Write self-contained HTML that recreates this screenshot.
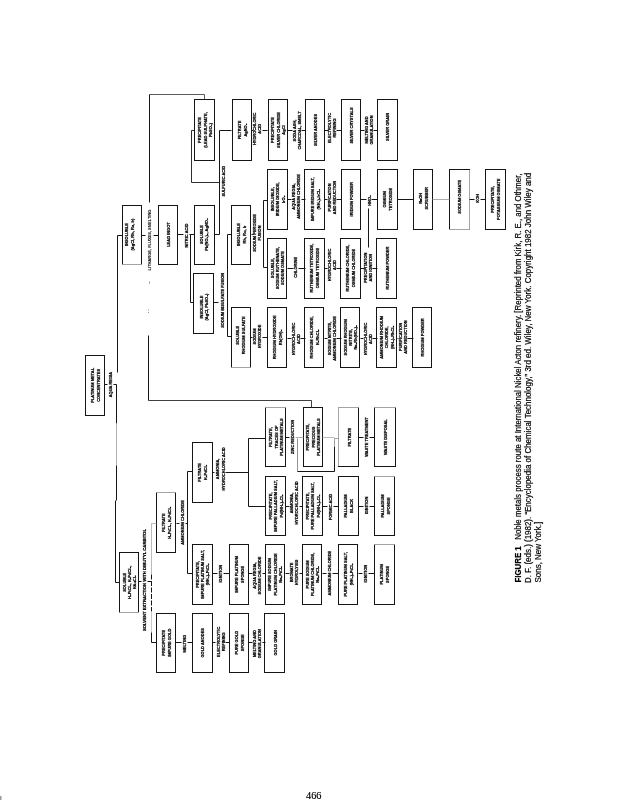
<!DOCTYPE html>
<html><head><meta charset="utf-8"><title>Figure 1</title>
<style>
html,body{margin:0;padding:0;background:#fff;}
body{width:617px;height:800px;overflow:hidden;}
svg{display:block;filter:grayscale(1);}
.b{fill:none;stroke:#151515;stroke-width:1;}
.l{fill:none;stroke:#151515;}
.t{font-family:"Liberation Sans",sans-serif;font-weight:bold;text-anchor:middle;fill:#000;stroke:#000;stroke-width:0.25;}
.f{stroke:#111;stroke-width:0.1;fill:#111;}
.c{font-family:"Liberation Sans",sans-serif;font-size:8.2px;fill:#000;stroke:#000;stroke-width:0.2;}
</style></head><body>
<svg width="617" height="800" viewBox="0 0 617 800">
<rect width="617" height="800" fill="#fff"/>
<rect x="85.5" y="355.5" width="19.0" height="60.0" class="b"/>
<text class="t" font-size="4.4" transform="translate(94.08,385.35) rotate(-90) scale(0.91,1)">PLATINUM METAL</text>
<text class="t" font-size="4.4" transform="translate(100.08,385.35) rotate(-90) scale(0.91,1)">CONCENTRATES</text>
<line x1="122.5" y1="205.0" x2="122.5" y2="265.0" class="l" style="stroke-width:1"/>
<line x1="141.5" y1="205.0" x2="141.5" y2="265.0" class="l" style="stroke-width:1"/>
<line x1="122.0" y1="205.5" x2="142.0" y2="205.5" class="l" style="stroke-width:1"/>
<line x1="122.0" y1="264.5" x2="142.0" y2="264.5" class="l" style="stroke:#9a9a9a;stroke-width:0.9"/>
<text class="t" font-size="4.4" transform="translate(128.43,234.55) rotate(-90) scale(0.91,1)">INSOLUBLE</text>
<text class="t" font-size="4.4" transform="translate(134.43,234.55) rotate(-90) scale(0.91,1)">(AgCl, Rh, Ru, Ir)</text>
<rect x="158.5" y="205.5" width="19.0" height="59.0" class="b"/>
<text class="t" font-size="4.4" transform="translate(169.73,234.55) rotate(-90) scale(0.91,1)">LEAD INGOT</text>
<rect x="194.5" y="205.5" width="20.0" height="59.0" class="b"/>
<text class="t" font-size="4.4" transform="translate(203.43,234.55) rotate(-90) scale(0.91,1)">SOLUBLE</text>
<text class="t" font-size="4.4" transform="translate(208.43,234.55) rotate(-90) scale(0.91,1)">Pb(NO₃)₂, AgNO₃</text>
<rect x="231.5" y="205.5" width="19.0" height="59.0" class="b"/>
<text class="t" font-size="4.4" transform="translate(239.88,234.55) rotate(-90) scale(0.91,1)">INSOLUBLE</text>
<text class="t" font-size="4.4" transform="translate(246.28,234.55) rotate(-90) scale(0.91,1)">Rh, Ru, Ir</text>
<rect x="193.5" y="273.5" width="20.0" height="60.0" class="b"/>
<text class="t" font-size="4.4" transform="translate(202.93,307.05) rotate(-90) scale(0.91,1)">INSOLUBLE</text>
<text class="t" font-size="4.4" transform="translate(207.93,307.05) rotate(-90) scale(0.91,1)">(AgCl, PbSO₄)</text>
<line x1="231.5" y1="307.0" x2="231.5" y2="368.0" class="l" style="stroke-width:1"/>
<line x1="250.5" y1="307.0" x2="250.5" y2="368.0" class="l" style="stroke-width:1"/>
<line x1="231.0" y1="307.5" x2="251.0" y2="307.5" class="l" style="stroke-width:1"/>
<line x1="231.0" y1="367.5" x2="251.0" y2="367.5" class="l" style="stroke:#9a9a9a;stroke-width:0.9"/>
<text class="t" font-size="4.4" transform="translate(239.48,335.35) rotate(-90) scale(0.91,1)">SOLUBLE</text>
<text class="t" font-size="4.4" transform="translate(245.48,335.35) rotate(-90) scale(0.91,1)">RHODIUM SULFATE</text>
<rect x="194.5" y="99.5" width="20.0" height="61.0" class="b"/>
<text class="t" font-size="4.4" transform="translate(201.23,130.00) rotate(-90) scale(0.91,1)">PRECIPITATE</text>
<text class="t" font-size="4.4" transform="translate(206.53,130.00) rotate(-90) scale(0.91,1)">(LEAD SULPHATE,</text>
<text class="t" font-size="4.4" transform="translate(211.83,130.00) rotate(-90) scale(0.91,1)">PbSO₄)</text>
<rect x="232.5" y="99.5" width="19.0" height="61.0" class="b"/>
<text class="t" font-size="4.4" transform="translate(240.63,130.00) rotate(-90) scale(0.91,1)">FILTRATE</text>
<text class="t" font-size="4.4" transform="translate(246.63,130.00) rotate(-90) scale(0.91,1)">AgNO₃</text>
<rect x="268.5" y="99.5" width="19.0" height="61.0" class="b"/>
<text class="t" font-size="4.4" transform="translate(274.33,130.00) rotate(-90) scale(0.91,1)">PRECIPITATE</text>
<text class="t" font-size="4.4" transform="translate(279.63,130.00) rotate(-90) scale(0.91,1)">SILVER CHLORIDE</text>
<text class="t" font-size="4.4" transform="translate(284.93,130.00) rotate(-90) scale(0.91,1)">AgCl</text>
<rect x="305.5" y="99.5" width="19.0" height="61.0" class="b"/>
<text class="t" font-size="4.4" transform="translate(316.83,130.00) rotate(-90) scale(0.91,1)">SILVER ANODES</text>
<rect x="341.5" y="99.5" width="19.0" height="61.0" class="b"/>
<text class="t" font-size="4.4" transform="translate(352.93,125.50) rotate(-90) scale(0.91,1)">SILVER CRYSTALS</text>
<rect x="377.5" y="99.5" width="20.0" height="61.0" class="b"/>
<text class="t" font-size="4.4" transform="translate(389.23,127.00) rotate(-90) scale(0.91,1)">SILVER GRAIN</text>
<rect x="267.5" y="169.5" width="20.0" height="60.0" class="b"/>
<text class="t" font-size="4.4" transform="translate(274.13,199.30) rotate(-90) scale(0.91,1)">INSOLUBLE,</text>
<text class="t" font-size="4.4" transform="translate(279.43,199.30) rotate(-90) scale(0.91,1)">IRIDIUM DIOXIDE,</text>
<text class="t" font-size="4.4" transform="translate(284.73,199.30) rotate(-90) scale(0.91,1)">IrO₂</text>
<rect x="304.5" y="169.5" width="20.0" height="60.0" class="b"/>
<text class="t" font-size="4.4" transform="translate(313.63,199.30) rotate(-90) scale(0.91,1)">IMPURE IRIDIUM SALT,</text>
<text class="t" font-size="4.4" transform="translate(319.63,199.30) rotate(-90) scale(0.91,1)">(NH₄)₂IrCl₆</text>
<rect x="341.5" y="169.5" width="19.0" height="60.0" class="b"/>
<text class="t" font-size="4.4" transform="translate(352.73,199.30) rotate(-90) scale(0.91,1)">IRIDIUM POWDER</text>
<rect x="377.5" y="169.5" width="20.0" height="60.0" class="b"/>
<text class="t" font-size="4.4" transform="translate(386.03,199.30) rotate(-90) scale(0.91,1)">OSMIUM</text>
<text class="t" font-size="4.4" transform="translate(392.03,199.30) rotate(-90) scale(0.91,1)">TETROXIDE</text>
<rect x="413.5" y="169.5" width="19.0" height="60.0" class="b"/>
<text class="t" font-size="4.4" transform="translate(421.63,198.30) rotate(-90) scale(0.91,1)">NaOH</text>
<text class="t" font-size="4.4" transform="translate(427.63,198.30) rotate(-90) scale(0.91,1)">SCRUBBER</text>
<line x1="449.5" y1="169.0" x2="449.5" y2="230.0" class="l" style="stroke-width:1"/>
<line x1="469.5" y1="169.0" x2="469.5" y2="230.0" class="l" style="stroke:#9a9a9a;stroke-width:0.9"/>
<line x1="449.0" y1="169.5" x2="470.0" y2="169.5" class="l" style="stroke-width:1"/>
<line x1="449.0" y1="229.5" x2="470.0" y2="229.5" class="l" style="stroke:#9a9a9a;stroke-width:0.9"/>
<text class="t" font-size="4.4" transform="translate(461.03,196.80) rotate(-90) scale(0.91,1)">SODIUM OSMATE</text>
<rect x="485.5" y="169.5" width="20.0" height="60.0" class="b"/>
<text class="t" font-size="4.4" transform="translate(494.08,199.30) rotate(-90) scale(0.91,1)">PRECIPITATE,</text>
<text class="t" font-size="4.4" transform="translate(500.08,199.30) rotate(-90) scale(0.91,1)">POTASSIUM OSMATE</text>
<rect x="267.5" y="238.5" width="19.0" height="60.0" class="b"/>
<text class="t" font-size="4.4" transform="translate(273.63,268.10) rotate(-90) scale(0.91,1)">SOLUBLE,</text>
<text class="t" font-size="4.4" transform="translate(278.93,268.10) rotate(-90) scale(0.91,1)">SODIUM RUTHENATE,</text>
<text class="t" font-size="4.4" transform="translate(284.23,268.10) rotate(-90) scale(0.91,1)">SODIUM OSMATE</text>
<rect x="304.5" y="238.5" width="20.0" height="60.0" class="b"/>
<text class="t" font-size="4.4" transform="translate(313.13,268.10) rotate(-90) scale(0.91,1)">RUTHENIUM TETROXIDE,</text>
<text class="t" font-size="4.4" transform="translate(319.13,268.10) rotate(-90) scale(0.91,1)">OSMIUM TETROXIDE</text>
<rect x="340.5" y="238.5" width="20.0" height="60.0" class="b"/>
<text class="t" font-size="4.4" transform="translate(349.23,268.10) rotate(-90) scale(0.91,1)">RUTHENIUM CHLORIDE,</text>
<text class="t" font-size="4.4" transform="translate(355.23,268.10) rotate(-90) scale(0.91,1)">OSMIUM CHLORIDE</text>
<rect x="376.5" y="238.5" width="20.0" height="60.0" class="b"/>
<text class="t" font-size="4.4" transform="translate(388.53,268.10) rotate(-90) scale(0.91,1)">RUTHENIUM POWDER</text>
<rect x="267.5" y="307.5" width="19.0" height="60.0" class="b"/>
<text class="t" font-size="4.4" transform="translate(275.63,337.35) rotate(-90) scale(0.91,1)">RHODIUM HYDROXIDE</text>
<text class="t" font-size="4.4" transform="translate(281.63,337.35) rotate(-90) scale(0.91,1)">Rh(OH)₃</text>
<rect x="304.5" y="307.5" width="19.0" height="60.0" class="b"/>
<text class="t" font-size="4.4" transform="translate(312.83,337.35) rotate(-90) scale(0.91,1)">RHODIUM CHLORIDE,</text>
<text class="t" font-size="4.4" transform="translate(318.83,337.35) rotate(-90) scale(0.91,1)">H₃RhCl₆</text>
<rect x="340.5" y="307.5" width="19.0" height="60.0" class="b"/>
<text class="t" font-size="4.4" transform="translate(346.63,337.35) rotate(-90) scale(0.91,1)">SODIUM RHODIUM</text>
<text class="t" font-size="4.4" transform="translate(351.93,337.35) rotate(-90) scale(0.91,1)">NITRITE,</text>
<text class="t" font-size="4.4" transform="translate(357.23,337.35) rotate(-90) scale(0.91,1)">Na₃Rh(NO₂)₆</text>
<rect x="376.5" y="307.5" width="20.0" height="60.0" class="b"/>
<text class="t" font-size="4.4" transform="translate(382.93,337.35) rotate(-90) scale(0.91,1)">AMMONIUM RHODIUM</text>
<text class="t" font-size="4.4" transform="translate(388.23,337.35) rotate(-90) scale(0.91,1)">CHLORIDE,</text>
<text class="t" font-size="4.4" transform="translate(393.53,337.35) rotate(-90) scale(0.91,1)">(NH₄)₃RhCl₆</text>
<rect x="412.5" y="307.5" width="19.0" height="60.0" class="b"/>
<text class="t" font-size="4.4" transform="translate(423.83,337.35) rotate(-90) scale(0.91,1)">RHODIUM POWDER</text>
<line x1="119.5" y1="552.0" x2="119.5" y2="613.0" class="l" style="stroke-width:1"/>
<line x1="138.5" y1="552.0" x2="138.5" y2="613.0" class="l" style="stroke-width:1"/>
<line x1="119.0" y1="552.5" x2="139.0" y2="552.5" class="l" style="stroke-width:1"/>
<line x1="119.0" y1="612.5" x2="139.0" y2="612.5" class="l" style="stroke:#9a9a9a;stroke-width:0.9"/>
<text class="t" font-size="4.4" transform="translate(125.78,582.30) rotate(-90) scale(0.91,1)">SOLUBLE</text>
<text class="t" font-size="4.4" transform="translate(131.08,582.30) rotate(-90) scale(0.91,1)">H₂PtCl₆, H₂PdCl₄,</text>
<text class="t" font-size="4.4" transform="translate(136.38,582.30) rotate(-90) scale(0.91,1)">HAuCl₄</text>
<line x1="156.5" y1="492.0" x2="156.5" y2="553.0" class="l" style="stroke-width:1"/>
<line x1="175.5" y1="492.0" x2="175.5" y2="553.0" class="l" style="stroke-width:1"/>
<line x1="156.0" y1="492.5" x2="176.0" y2="492.5" class="l" style="stroke:#9a9a9a;stroke-width:0.9"/>
<line x1="156.0" y1="552.5" x2="176.0" y2="552.5" class="l" style="stroke-width:1"/>
<text class="t" font-size="4.4" transform="translate(164.93,522.65) rotate(-90) scale(0.91,1)">FILTRATE</text>
<text class="t" font-size="4.4" transform="translate(170.93,522.65) rotate(-90) scale(0.91,1)">H₂PtCl₆, H₂PdCl₄</text>
<rect x="192.5" y="442.5" width="20.0" height="60.0" class="b"/>
<text class="t" font-size="4.4" transform="translate(201.18,472.35) rotate(-90) scale(0.91,1)">FILTRATE</text>
<text class="t" font-size="4.4" transform="translate(207.18,472.35) rotate(-90) scale(0.91,1)">H₂PdCl₄</text>
<rect x="156.5" y="613.5" width="19.0" height="59.0" class="b"/>
<text class="t" font-size="4.4" transform="translate(164.73,642.75) rotate(-90) scale(0.91,1)">PRECIPITATE</text>
<text class="t" font-size="4.4" transform="translate(170.73,642.75) rotate(-90) scale(0.91,1)">IMPURE GOLD</text>
<rect x="192.5" y="613.5" width="20.0" height="59.0" class="b"/>
<text class="t" font-size="4.4" transform="translate(203.88,642.75) rotate(-90) scale(0.91,1)">GOLD ANODES</text>
<rect x="229.5" y="613.5" width="19.0" height="59.0" class="b"/>
<text class="t" font-size="4.4" transform="translate(237.68,642.75) rotate(-90) scale(0.91,1)">PURE GOLD</text>
<text class="t" font-size="4.4" transform="translate(243.68,642.75) rotate(-90) scale(0.91,1)">SPONGE</text>
<rect x="264.5" y="613.5" width="20.0" height="59.0" class="b"/>
<text class="t" font-size="4.4" transform="translate(276.63,642.75) rotate(-90) scale(0.91,1)">GOLD GRAIN</text>
<rect x="192.5" y="544.5" width="20.0" height="60.0" class="b"/>
<text class="t" font-size="4.4" transform="translate(198.58,574.40) rotate(-90) scale(0.91,1)">PRECIPITATE,</text>
<text class="t" font-size="4.4" transform="translate(203.88,574.40) rotate(-90) scale(0.91,1)">IMPURE PLATINUM SALT,</text>
<text class="t" font-size="4.4" transform="translate(209.18,574.40) rotate(-90) scale(0.91,1)">(NH₄)₂PtCl₆</text>
<rect x="229.5" y="544.5" width="19.0" height="60.0" class="b"/>
<text class="t" font-size="4.4" transform="translate(237.68,574.40) rotate(-90) scale(0.91,1)">IMPURE PLATINUM</text>
<text class="t" font-size="4.4" transform="translate(243.68,574.40) rotate(-90) scale(0.91,1)">SPONGE</text>
<rect x="265.5" y="544.5" width="19.0" height="60.0" class="b"/>
<text class="t" font-size="4.4" transform="translate(271.43,574.40) rotate(-90) scale(0.91,1)">IMPURE SODIUM</text>
<text class="t" font-size="4.4" transform="translate(276.73,574.40) rotate(-90) scale(0.91,1)">PLATINUM CHLORIDE</text>
<text class="t" font-size="4.4" transform="translate(282.03,574.40) rotate(-90) scale(0.91,1)">Na₂PtCl₆</text>
<rect x="302.5" y="544.5" width="19.0" height="60.0" class="b"/>
<text class="t" font-size="4.4" transform="translate(308.58,574.40) rotate(-90) scale(0.91,1)">PURE SODIUM</text>
<text class="t" font-size="4.4" transform="translate(313.88,574.40) rotate(-90) scale(0.91,1)">PLATINUM CHLORIDE,</text>
<text class="t" font-size="4.4" transform="translate(319.18,574.40) rotate(-90) scale(0.91,1)">Na₂PtCl₆</text>
<rect x="338.5" y="544.5" width="19.0" height="60.0" class="b"/>
<text class="t" font-size="4.4" transform="translate(346.83,574.40) rotate(-90) scale(0.91,1)">PURE PLATINUM SALT,</text>
<text class="t" font-size="4.4" transform="translate(352.83,574.40) rotate(-90) scale(0.91,1)">(NH₄)₂PtCl₆</text>
<line x1="374.5" y1="544.0" x2="374.5" y2="605.0" class="l" style="stroke-width:1"/>
<line x1="394.5" y1="544.0" x2="394.5" y2="605.0" class="l" style="stroke-width:1"/>
<line x1="374.0" y1="544.5" x2="395.0" y2="544.5" class="l" style="stroke:#9a9a9a;stroke-width:0.9"/>
<line x1="374.0" y1="604.5" x2="395.0" y2="604.5" class="l" style="stroke-width:1"/>
<text class="t" font-size="4.4" transform="translate(383.08,574.40) rotate(-90) scale(0.91,1)">PLATINUM</text>
<text class="t" font-size="4.4" transform="translate(389.08,574.40) rotate(-90) scale(0.91,1)">SPONGE</text>
<rect x="265.5" y="476.5" width="20.0" height="59.0" class="b"/>
<text class="t" font-size="4.4" transform="translate(271.93,505.95) rotate(-90) scale(0.91,1)">PRECIPITATE,</text>
<text class="t" font-size="4.4" transform="translate(277.23,505.95) rotate(-90) scale(0.91,1)">IMPURE PALLADIUM SALT,</text>
<text class="t" font-size="4.4" transform="translate(282.53,505.95) rotate(-90) scale(0.91,1)">Pd(NH₃)₂Cl₂</text>
<rect x="302.5" y="476.5" width="20.0" height="59.0" class="b"/>
<text class="t" font-size="4.4" transform="translate(309.08,505.95) rotate(-90) scale(0.91,1)">PRECIPITATE,</text>
<text class="t" font-size="4.4" transform="translate(314.38,505.95) rotate(-90) scale(0.91,1)">PURE PALLADIUM SALT,</text>
<text class="t" font-size="4.4" transform="translate(319.68,505.95) rotate(-90) scale(0.91,1)">Pd(NH₃)₂Cl₂</text>
<rect x="338.5" y="476.5" width="20.0" height="59.0" class="b"/>
<text class="t" font-size="4.4" transform="translate(347.33,505.95) rotate(-90) scale(0.91,1)">PALLADIUM</text>
<text class="t" font-size="4.4" transform="translate(353.33,505.95) rotate(-90) scale(0.91,1)">BLACK</text>
<line x1="374.5" y1="476.0" x2="374.5" y2="536.0" class="l" style="stroke-width:1"/>
<line x1="394.5" y1="476.0" x2="394.5" y2="536.0" class="l" style="stroke-width:1"/>
<line x1="374.0" y1="476.5" x2="395.0" y2="476.5" class="l" style="stroke:#9a9a9a;stroke-width:0.9"/>
<line x1="374.0" y1="535.5" x2="395.0" y2="535.5" class="l" style="stroke-width:1"/>
<text class="t" font-size="4.4" transform="translate(383.58,505.95) rotate(-90) scale(0.91,1)">PALLADIUM</text>
<text class="t" font-size="4.4" transform="translate(389.58,505.95) rotate(-90) scale(0.91,1)">SPONGE</text>
<line x1="265.5" y1="407.0" x2="265.5" y2="467.0" class="l" style="stroke-width:1"/>
<line x1="285.5" y1="407.0" x2="285.5" y2="467.0" class="l" style="stroke-width:1"/>
<line x1="265.0" y1="407.5" x2="286.0" y2="407.5" class="l" style="stroke:#9a9a9a;stroke-width:0.9"/>
<line x1="265.0" y1="466.5" x2="286.0" y2="466.5" class="l" style="stroke-width:1"/>
<text class="t" font-size="4.4" transform="translate(272.33,437.10) rotate(-90) scale(0.91,1)">FILTRATE,</text>
<text class="t" font-size="4.4" transform="translate(277.63,437.10) rotate(-90) scale(0.91,1)">TRACES OF</text>
<text class="t" font-size="4.4" transform="translate(282.93,437.10) rotate(-90) scale(0.91,1)">PLATINUM METALS</text>
<rect x="303.5" y="407.5" width="19.0" height="59.0" class="b"/>
<text class="t" font-size="4.4" transform="translate(309.48,437.10) rotate(-90) scale(0.91,1)">PRECIPITATE,</text>
<text class="t" font-size="4.4" transform="translate(314.78,437.10) rotate(-90) scale(0.91,1)">PRECIOUS</text>
<text class="t" font-size="4.4" transform="translate(320.08,437.10) rotate(-90) scale(0.91,1)">PLATINUM METALS</text>
<line x1="338.5" y1="407.0" x2="338.5" y2="467.0" class="l" style="stroke:#9a9a9a;stroke-width:0.9"/>
<line x1="358.5" y1="407.0" x2="358.5" y2="467.0" class="l" style="stroke-width:1"/>
<line x1="338.0" y1="407.5" x2="359.0" y2="407.5" class="l" style="stroke:#9a9a9a;stroke-width:0.9"/>
<line x1="338.0" y1="466.5" x2="359.0" y2="466.5" class="l" style="stroke-width:1"/>
<text class="t" font-size="4.4" transform="translate(350.73,437.10) rotate(-90) scale(0.91,1)">FILTRATE</text>
<line x1="374.5" y1="407.0" x2="374.5" y2="467.0" class="l" style="stroke-width:1"/>
<line x1="395.5" y1="407.0" x2="395.5" y2="467.0" class="l" style="stroke-width:1"/>
<line x1="374.0" y1="407.5" x2="396.0" y2="407.5" class="l" style="stroke:#9a9a9a;stroke-width:0.9"/>
<line x1="374.0" y1="466.5" x2="396.0" y2="466.5" class="l" style="stroke-width:1"/>
<text class="t" font-size="4.4" transform="translate(386.98,437.10) rotate(-90) scale(0.91,1)">WASTE DISPOSAL</text>
<text class="t" font-size="4.4" transform="translate(111.78,384.60) rotate(-90) scale(0.91,1)">AQUA REGIA</text>
<text class="t f" font-size="4.4" transform="translate(151.18,240.00) rotate(-90) scale(0.91,1)">LITHARGE, FLUXES, SMELTING</text>
<text class="t" font-size="4.4" transform="translate(187.98,235.60) rotate(-90) scale(0.91,1)">NITRIC ACID</text>
<text class="t" font-size="4.4" transform="translate(224.78,181.20) rotate(-90) scale(0.91,1)">SULFURIC ACID</text>
<text class="t" font-size="4.4" transform="translate(224.38,300.30) rotate(-90) scale(0.91,1)">SODIUM BISULFATE FUSION</text>
<text class="t" font-size="4.4" transform="translate(256.08,233.00) rotate(-90) scale(0.91,1)">SODIUM PEROXIDE</text>
<text class="t" font-size="4.4" transform="translate(261.08,233.00) rotate(-90) scale(0.91,1)">FUSION</text>
<text class="t" font-size="4.4" transform="translate(256.38,336.50) rotate(-90) scale(0.91,1)">SODIUM</text>
<text class="t" font-size="4.4" transform="translate(261.38,336.50) rotate(-90) scale(0.91,1)">HYDROXIDE</text>
<text class="t" font-size="4.4" transform="translate(256.48,128.80) rotate(-90) scale(0.91,1)">HYDROCHLORIC</text>
<text class="t" font-size="4.4" transform="translate(261.48,128.80) rotate(-90) scale(0.91,1)">ACID</text>
<text class="t" font-size="4.4" transform="translate(296.08,130.50) rotate(-90) scale(0.91,1)">SODA ASH,</text>
<text class="t" font-size="4.4" transform="translate(301.08,130.50) rotate(-90) scale(0.91,1)">CHARCOAL, SMELT</text>
<text class="t" font-size="4.4" transform="translate(331.38,128.00) rotate(-90) scale(0.91,1)">ELECTROLYTIC</text>
<text class="t" font-size="4.4" transform="translate(336.38,128.00) rotate(-90) scale(0.91,1)">REFINING</text>
<text class="t" font-size="4.4" transform="translate(368.28,130.00) rotate(-90) scale(0.91,1)">MELTING AND</text>
<text class="t" font-size="4.4" transform="translate(373.28,130.00) rotate(-90) scale(0.91,1)">GRANULATION</text>
<text class="t" font-size="4.4" transform="translate(295.48,196.50) rotate(-90) scale(0.91,1)">AQUA REGIA,</text>
<text class="t" font-size="4.4" transform="translate(300.48,196.50) rotate(-90) scale(0.91,1)">AMMONIUM CHLORIDE</text>
<text class="t" font-size="4.4" transform="translate(331.38,197.50) rotate(-90) scale(0.91,1)">PURIFICATION</text>
<text class="t" font-size="4.4" transform="translate(336.38,197.50) rotate(-90) scale(0.91,1)">AND REDUCTION</text>
<text class="t" font-size="4.4" transform="translate(370.78,200.50) rotate(-90) scale(0.91,1)">HNO₃</text>
<text class="t" font-size="4.4" transform="translate(478.98,198.30) rotate(-90) scale(0.91,1)">KOH</text>
<text class="t" font-size="4.4" transform="translate(297.18,267.30) rotate(-90) scale(0.91,1)">CHLORINE</text>
<text class="t" font-size="4.4" transform="translate(330.88,265.00) rotate(-90) scale(0.91,1)">HYDROCHLORIC</text>
<text class="t" font-size="4.4" transform="translate(335.88,265.00) rotate(-90) scale(0.91,1)">ACID</text>
<text class="t" font-size="4.4" transform="translate(367.38,267.70) rotate(-90) scale(0.91,1)">PRECIPITATION</text>
<text class="t" font-size="4.4" transform="translate(372.38,267.70) rotate(-90) scale(0.91,1)">AND IGNITION</text>
<text class="t" font-size="4.4" transform="translate(294.88,339.00) rotate(-90) scale(0.91,1)">HYDROCHLORIC</text>
<text class="t" font-size="4.4" transform="translate(299.88,339.00) rotate(-90) scale(0.91,1)">ACID</text>
<text class="t" font-size="4.4" transform="translate(330.88,338.50) rotate(-90) scale(0.91,1)">SODIUM NITRITE,</text>
<text class="t" font-size="4.4" transform="translate(335.88,338.50) rotate(-90) scale(0.91,1)">AMMONIUM CHLORIDE</text>
<text class="t" font-size="4.4" transform="translate(367.08,339.00) rotate(-90) scale(0.91,1)">HYDROCHLORIC</text>
<text class="t" font-size="4.4" transform="translate(372.08,339.00) rotate(-90) scale(0.91,1)">ACID</text>
<text class="t" font-size="4.4" transform="translate(402.28,337.00) rotate(-90) scale(0.91,1)">PURIFICATION</text>
<text class="t" font-size="4.4" transform="translate(407.28,337.00) rotate(-90) scale(0.91,1)">AND REDUCTION</text>
<text class="t" font-size="4.4" transform="translate(145.88,580.00) rotate(-90) scale(0.955,1)">SOLVENT EXTRACTION WITH DIBUTYL CARBITOL</text>
<text class="t" font-size="4.4" transform="translate(184.08,522.50) rotate(-90) scale(0.91,1)">AMMONIUM CHLORIDE</text>
<text class="t" font-size="4.4" transform="translate(219.08,468.90) rotate(-90) scale(0.91,1)">AMMONIA,</text>
<text class="t" font-size="4.4" transform="translate(224.68,468.90) rotate(-90) scale(0.91,1)">HYDROCHLORIC ACID</text>
<text class="t" font-size="4.4" transform="translate(293.58,437.00) rotate(-90) scale(0.91,1)">ZINC REDUCTION</text>
<text class="t" font-size="4.4" transform="translate(367.88,437.00) rotate(-90) scale(0.91,1)">WASTE TREATMENT</text>
<text class="t" font-size="4.4" transform="translate(293.38,503.00) rotate(-90) scale(0.91,1)">AMMONIA,</text>
<text class="t" font-size="4.4" transform="translate(298.38,503.00) rotate(-90) scale(0.91,1)">HYDROCHLORIC ACID</text>
<text class="t" font-size="4.4" transform="translate(331.58,507.00) rotate(-90) scale(0.91,1)">FORMIC ACID</text>
<text class="t" font-size="4.4" transform="translate(367.88,505.50) rotate(-90) scale(0.91,1)">IGNITION</text>
<text class="t" font-size="4.4" transform="translate(222.18,573.70) rotate(-90) scale(0.91,1)">IGNITION</text>
<text class="t" font-size="4.4" transform="translate(256.08,575.50) rotate(-90) scale(0.91,1)">AQUA REGIA,</text>
<text class="t" font-size="4.4" transform="translate(261.08,575.50) rotate(-90) scale(0.91,1)">SODIUM CHLORIDE</text>
<text class="t" font-size="4.4" transform="translate(293.38,572.40) rotate(-90) scale(0.91,1)">BROMATE</text>
<text class="t" font-size="4.4" transform="translate(298.38,572.40) rotate(-90) scale(0.91,1)">HYDROLYSIS</text>
<text class="t" font-size="4.4" transform="translate(331.08,573.10) rotate(-90) scale(0.91,1)">AMMONIUM CHLORIDE</text>
<text class="t" font-size="4.4" transform="translate(367.38,573.70) rotate(-90) scale(0.91,1)">IGNITION</text>
<text class="t" font-size="4.4" transform="translate(185.88,643.70) rotate(-90) scale(0.91,1)">MELTING</text>
<text class="t" font-size="4.4" transform="translate(219.68,641.80) rotate(-90) scale(0.91,1)">ELECTROLYTIC</text>
<text class="t" font-size="4.4" transform="translate(224.68,641.80) rotate(-90) scale(0.91,1)">REFINING</text>
<text class="t" font-size="4.4" transform="translate(256.08,643.70) rotate(-90) scale(0.91,1)">MELTING AND</text>
<text class="t" font-size="4.4" transform="translate(261.08,643.70) rotate(-90) scale(0.91,1)">GRANULATION</text>
<polyline points="204.5,99.5 204.5,94.5 149.5,94.5" class="l" style="stroke-width:0.7"/>
<polyline points="149.5,94.5 149.5,202.5" class="l" style="stroke-width:1.0"/>
<polyline points="148.5,335.5 148.5,400.5" class="l" style="stroke-width:1.0"/>
<polyline points="149.5,281.5 149.5,283.5" class="l" style="stroke-width:0.8;stroke:#777"/>
<polyline points="148.5,309.5 148.5,314.5" class="l" style="stroke-width:0.8;stroke:#777;stroke-dasharray:1 1.5"/>
<polyline points="148.5,400.5 311.5,400.5 311.5,407.5" class="l" style="stroke-width:0.9;stroke:#2a2a2a"/>
<polyline points="104.5,384.5 107.5,384.5" class="l" style="stroke-width:1.0"/>
<polyline points="113.5,384.5 116.5,384.5" class="l" style="stroke-width:1.0"/>
<polyline points="122.5,235.5 117.5,235.5 117.5,372.5" class="l" style="stroke-width:1.0"/>
<polyline points="116.5,384.5 116.5,423.5" class="l" style="stroke-width:1.0"/>
<polyline points="116.5,423.5 116.5,465.5" class="l" style="stroke-width:0.8;stroke:#999"/>
<polyline points="116.5,465.5 116.5,500.5" class="l" style="stroke-width:1.0"/>
<polyline points="115.5,500.5 115.5,582.5 119.5,582.5" class="l" style="stroke-width:1.0"/>
<polyline points="141.5,235.5 145.5,235.5" class="l" style="stroke-width:1.0"/>
<polyline points="153.5,235.5 158.5,235.5" class="l" style="stroke-width:1.0"/>
<polyline points="177.5,234.5 183.5,234.5" class="l" style="stroke-width:1.0"/>
<polyline points="189.5,234.5 194.5,234.5" class="l" style="stroke-width:1.0"/>
<polyline points="190.5,234.5 190.5,302.5 193.5,302.5" class="l" style="stroke-width:1.0"/>
<polyline points="214.5,234.5 219.5,234.5 219.5,130.5 231.5,130.5" class="l" style="stroke-width:1.0"/>
<polyline points="219.5,182.5 191.5,182.5 191.5,130.5 194.5,130.5" class="l" style="stroke-width:0.9"/>
<polyline points="213.5,302.5 218.5,302.5" class="l" style="stroke-width:1.0"/>
<polyline points="231.5,234.5 227.5,234.5 227.5,336.5 231.5,336.5" class="l" style="stroke-width:1.0"/>
<polyline points="251.5,234.5 253.5,234.5" class="l" style="stroke-width:1.0"/>
<polyline points="267.5,200.5 263.5,200.5 263.5,267.5 267.5,267.5" class="l" style="stroke-width:1.0"/>
<polyline points="250.5,337.5 252.5,337.5" class="l" style="stroke-width:1.0"/>
<polyline points="262.5,337.5 267.5,337.5" class="l" style="stroke-width:1.0"/>
<polyline points="251.5,130.5 253.5,130.5" class="l" style="stroke-width:1.0"/>
<polyline points="262.5,130.5 267.5,130.5" class="l" style="stroke-width:1.0"/>
<polyline points="287.5,130.5 292.5,130.5" class="l" style="stroke-width:1.0"/>
<polyline points="301.5,130.5 305.5,130.5" class="l" style="stroke-width:1.0"/>
<polyline points="324.5,130.5 328.5,130.5" class="l" style="stroke-width:1.0"/>
<polyline points="336.5,130.5 341.5,130.5" class="l" style="stroke-width:1.0"/>
<polyline points="360.5,130.5 364.5,130.5" class="l" style="stroke-width:1.0"/>
<polyline points="373.5,130.5 377.5,130.5" class="l" style="stroke-width:1.0"/>
<polyline points="287.5,199.5 291.5,199.5" class="l" style="stroke-width:1.0"/>
<polyline points="301.5,199.5 305.5,199.5" class="l" style="stroke-width:1.0"/>
<polyline points="324.5,199.5 327.5,199.5" class="l" style="stroke-width:1.0"/>
<polyline points="336.5,199.5 341.5,199.5" class="l" style="stroke-width:1.0"/>
<polyline points="360.5,199.5 366.5,199.5" class="l" style="stroke-width:1.0"/>
<polyline points="371.5,199.5 377.5,199.5" class="l" style="stroke-width:1.0"/>
<polyline points="397.5,199.5 413.5,199.5" class="l" style="stroke-width:1.0"/>
<polyline points="469.5,199.5 474.5,199.5" class="l" style="stroke-width:1.0"/>
<polyline points="480.5,199.5 485.5,199.5" class="l" style="stroke-width:1.0"/>
<polyline points="368.5,208.5 368.5,247.5" class="l" style="stroke-width:1.0"/>
<polyline points="432.5,199.5 449.5,199.5" class="l" style="stroke-width:0.8;stroke:#999"/>
<polyline points="287.5,268.5 293.5,268.5" class="l" style="stroke-width:1.0"/>
<polyline points="298.5,268.5 305.5,268.5" class="l" style="stroke-width:1.0"/>
<polyline points="324.5,268.5 327.5,268.5" class="l" style="stroke-width:1.0"/>
<polyline points="336.5,268.5 341.5,268.5" class="l" style="stroke-width:1.0"/>
<polyline points="360.5,268.5 364.5,268.5" class="l" style="stroke-width:1.0"/>
<polyline points="372.5,268.5 377.5,268.5" class="l" style="stroke-width:1.0"/>
<polyline points="287.5,338.5 291.5,338.5" class="l" style="stroke-width:1.0"/>
<polyline points="300.5,338.5 305.5,338.5" class="l" style="stroke-width:1.0"/>
<polyline points="324.5,338.5 327.5,338.5" class="l" style="stroke-width:1.0"/>
<polyline points="336.5,338.5 341.5,338.5" class="l" style="stroke-width:1.0"/>
<polyline points="360.5,338.5 363.5,338.5" class="l" style="stroke-width:1.0"/>
<polyline points="372.5,338.5 377.5,338.5" class="l" style="stroke-width:1.0"/>
<polyline points="397.5,338.5 398.5,338.5" class="l" style="stroke-width:1.0"/>
<polyline points="407.5,338.5 413.5,338.5" class="l" style="stroke-width:1.0"/>
<polyline points="138.5,581.5 141.5,581.5" class="l" style="stroke-width:1.0"/>
<polyline points="147.5,581.5 151.5,581.5" class="l" style="stroke-width:1.0"/>
<polyline points="156.5,523.5 151.5,523.5 151.5,574.5" class="l" style="stroke-width:0.8;stroke:#aaa"/>
<polyline points="151.5,574.5 151.5,611.5" class="l" style="stroke-width:1.0;stroke-dasharray:5 1.5"/>
<polyline points="151.5,611.5 151.5,632.5" class="l" style="stroke-width:0.8;stroke:#bbb"/>
<polyline points="151.5,632.5 151.5,642.5 156.5,642.5" class="l" style="stroke-width:1.0"/>
<polyline points="176.5,523.5 179.5,523.5" class="l" style="stroke-width:1.0"/>
<polyline points="185.5,523.5 187.5,523.5" class="l" style="stroke-width:1.0"/>
<polyline points="192.5,471.5 187.5,471.5 187.5,573.5 192.5,573.5" class="l" style="stroke-width:1.0"/>
<polyline points="212.5,472.5 214.5,472.5" class="l" style="stroke-width:1.0"/>
<polyline points="225.5,472.5 248.5,472.5" class="l" style="stroke-width:1.0"/>
<polyline points="265.5,438.5 248.5,438.5 248.5,506.5 265.5,506.5" class="l" style="stroke-width:1.0"/>
<polyline points="285.5,437.5 289.5,437.5" class="l" style="stroke-width:1.0"/>
<polyline points="358.5,437.5 363.5,437.5" class="l" style="stroke-width:1.0"/>
<polyline points="369.5,437.5 374.5,437.5" class="l" style="stroke-width:1.0"/>
<polyline points="295.5,437.5 303.5,437.5" class="l" style="stroke-width:0.8;stroke:#999"/>
<polyline points="322.5,437.5 334.5,437.5" class="l" style="stroke-width:0.8;stroke:#aaa"/>
<polyline points="297.5,438.5 297.5,471.5" class="l" style="stroke-width:0.8;stroke:#777"/>
<polyline points="297.5,471.5 334.5,471.5 334.5,446.5" class="l" style="stroke-width:1.0"/>
<polyline points="334.5,446.5 334.5,438.5 338.5,438.5" class="l" style="stroke-width:0.8;stroke:#888"/>
<polyline points="285.5,506.5 289.5,506.5" class="l" style="stroke-width:1.0"/>
<polyline points="299.5,506.5 302.5,506.5" class="l" style="stroke-width:1.0"/>
<polyline points="322.5,506.5 327.5,506.5" class="l" style="stroke-width:1.0"/>
<polyline points="333.5,506.5 338.5,506.5" class="l" style="stroke-width:1.0"/>
<polyline points="358.5,506.5 363.5,506.5" class="l" style="stroke-width:1.0"/>
<polyline points="369.5,506.5 374.5,506.5" class="l" style="stroke-width:1.0"/>
<polyline points="212.5,573.5 217.5,573.5" class="l" style="stroke-width:1.0"/>
<polyline points="223.5,573.5 229.5,573.5" class="l" style="stroke-width:1.0"/>
<polyline points="248.5,573.5 252.5,573.5" class="l" style="stroke-width:1.0"/>
<polyline points="262.5,573.5 265.5,573.5" class="l" style="stroke-width:1.0"/>
<polyline points="285.5,573.5 289.5,573.5" class="l" style="stroke-width:1.0"/>
<polyline points="299.5,573.5 302.5,573.5" class="l" style="stroke-width:1.0"/>
<polyline points="322.5,573.5 326.5,573.5" class="l" style="stroke-width:1.0"/>
<polyline points="332.5,573.5 338.5,573.5" class="l" style="stroke-width:1.0"/>
<polyline points="358.5,573.5 362.5,573.5" class="l" style="stroke-width:1.0"/>
<polyline points="368.5,573.5 374.5,573.5" class="l" style="stroke-width:1.0"/>
<polyline points="175.5,642.5 181.5,642.5" class="l" style="stroke-width:1.0"/>
<polyline points="187.5,642.5 192.5,642.5" class="l" style="stroke-width:1.0"/>
<polyline points="212.5,642.5 215.5,642.5" class="l" style="stroke-width:1.0"/>
<polyline points="225.5,642.5 229.5,642.5" class="l" style="stroke-width:1.0"/>
<polyline points="248.5,642.5 252.5,642.5" class="l" style="stroke-width:1.0"/>
<polyline points="262.5,642.5 265.5,642.5" class="l" style="stroke-width:1.0"/>
<text class="c" transform="translate(520.6,582.5) rotate(-90)" textLength="409" lengthAdjust="spacingAndGlyphs"><tspan font-weight="bold">FIGURE 1</tspan>   Noble metals process route at International Nickel Acton refinery. [Reprinted from Kirk, R. E., and Othmer,</text>
<text class="c" transform="translate(530.6,583.1) rotate(-90)" textLength="410.3" lengthAdjust="spacingAndGlyphs">D. F. (eds.) (1982). “Encyclopedia of Chemical Technology,” 3rd ed. Wiley, New York. Copyright 1982 John Wiley and</text>
<text class="c" transform="translate(540.6,582.5) rotate(-90)" textLength="60.6" lengthAdjust="spacingAndGlyphs">Sons, New York.]</text>
<text x="306" y="798.8" font-family="'Liberation Serif',serif" font-size="10.3" fill="#000" stroke="#000" stroke-width="0.15">466</text>
<rect x="0" y="796" width="1.5" height="4" fill="#999"/>
</svg>
</body></html>
